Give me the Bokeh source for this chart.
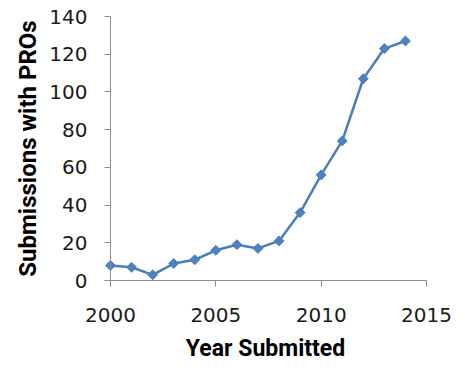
from bokeh.plotting import figure
from bokeh.models import Range1d, FixedTicker, Span
from bokeh.embed import file_html
from bokeh.resources import INLINE
import math

years = [2000, 2001, 2002, 2003, 2004, 2005, 2006, 2007, 2008, 2009, 2010, 2011, 2012, 2013, 2014]
submissions = [8, 7, 3, 9, 11, 16, 19, 17, 21, 36, 56, 74, 107, 123, 127]
x_ticks = [2000, 2005, 2010, 2015]
y_ticks = [0, 20, 40, 60, 80, 100, 120, 140]
x_label = "Year Submitted"
y_label = "Submissions with PROs"

LINE = "#4A7EBB"
AXIS = "#8C8C8C"

# frame: a few px of padding left of the first year so its marker is not clipped;
# the y-axis ticks span exactly that padding
PAD = 6
DATA_W = 316
x0, x1 = x_ticks[0], x_ticks[-1]
pad_years = PAD * (x1 - x0) / DATA_W

p = figure(frame_width=DATA_W + PAD, frame_height=264,
           x_range=Range1d(x0 - pad_years, x1), y_range=Range1d(y_ticks[0], y_ticks[-1]),
           output_backend="svg", toolbar_location=None,
           min_border_left=110 - PAD, min_border_right=30, min_border_top=16, min_border_bottom=84)
p.outline_line_color = None
p.xgrid.visible = False
p.ygrid.visible = False

p.line(years, submissions, line_color=LINE, line_width=2.5)
p.scatter(years, submissions, marker="square", size=7, angle=math.pi / 4,
          fill_color="#4F81BD", line_color=LINE, line_width=1)

for ax in (p.xaxis[0], p.yaxis[0]):
    ax.axis_line_color = AXIS
    ax.major_tick_line_color = AXIS
    ax.minor_tick_line_color = None
    ax.minor_tick_in = 0
    ax.minor_tick_out = 0
    ax.major_tick_in = 0
    ax.major_tick_out = 6
    ax.major_label_text_font = "DejaVu Sans"
    ax.major_label_text_font_size = "20px"
    ax.major_label_text_color = "#1a1a1a"
    ax.axis_label_text_font = "Roboto"
    ax.axis_label_text_font_style = "bold"
    ax.axis_label_text_color = "#000000"

xa, ya = p.xaxis[0], p.yaxis[0]
xa.ticker = FixedTicker(ticks=x_ticks)
ya.ticker = FixedTicker(ticks=y_ticks)
xa.bounds = (x0, x1)
xa.axis_label = x_label
ya.axis_label = y_label
xa.axis_label_text_font_size = "23px"
ya.axis_label_text_font_size = "24px"

# y axis sits at the padded frame edge; its line is drawn at the first year
ya.axis_line_color = None
ya.major_tick_in = PAD
ya.major_tick_out = 0
p.add_layout(Span(location=x0, dimension="height", line_color=AXIS, line_width=1))

xa.major_label_standoff = 21
ya.major_label_standoff = 17
xa.axis_label_standoff = 10
ya.axis_label_standoff = 4

open("out.html", "w").write(file_html(p, INLINE))
